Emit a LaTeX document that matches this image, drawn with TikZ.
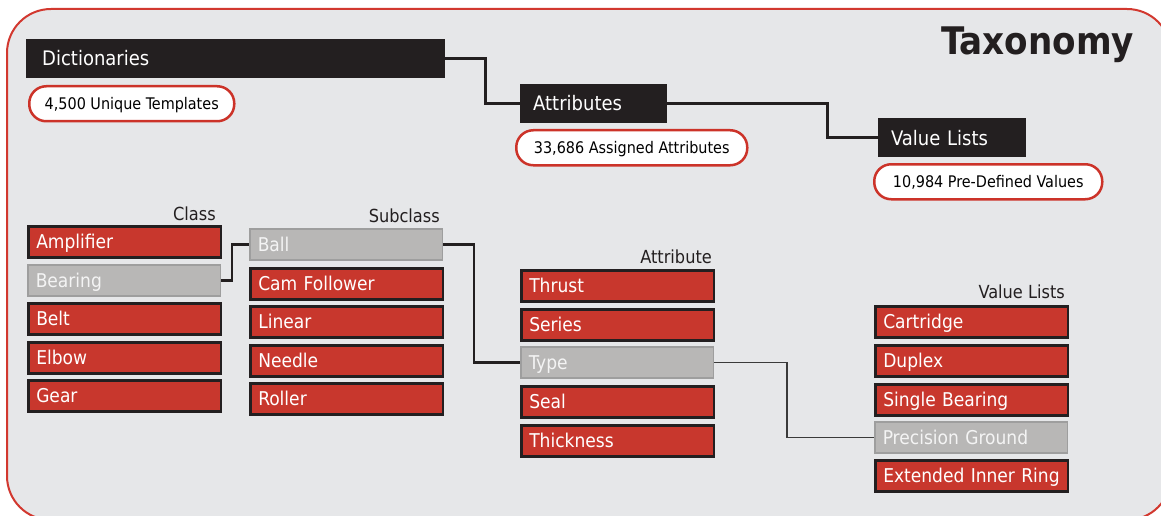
\documentclass[tikz,border=0pt]{standalone}
\usepackage{fontspec}
\setmainfont{DejaVu Sans Condensed}
\definecolor{bgc}{HTML}{E6E7E9}
\definecolor{framered}{HTML}{D2382F}
\definecolor{hdrc}{HTML}{231F20}
\definecolor{pillred}{HTML}{CC3329}
\definecolor{cellred}{HTML}{C8372D}
\definecolor{cellborder}{HTML}{231F20}
\definecolor{cellgrey}{HTML}{B8B7B6}
\definecolor{greyborder}{HTML}{9E9E9E}
\definecolor{greytext}{HTML}{F4F4F4}
\definecolor{thinline}{HTML}{3A3A3A}
\tikzset{
  hdr/.style={anchor=north west, fill=hdrc, text=white, align=left,
    font=\fontsize{20}{24}\selectfont, minimum height=39pt,
    text height=14.6pt, text depth=0pt},
  pill/.style={anchor=north west, draw=pillred, line width=2.5pt, fill=white,
    rounded corners=17pt, minimum height=35pt, text=black,
    font=\fontsize{16}{19}\selectfont, text height=11.7pt, text depth=0pt},
  cell/.style={anchor=north west, text width=176.5pt, inner xsep=8pt, align=left,
    minimum height=31pt, text height=14pt, text depth=0pt,
    font=\fontsize{19}{22}\selectfont},
  redcell/.style={cell, fill=cellred, draw=cellborder, line width=2.5pt, text=white},
  greycell/.style={cell, fill=cellgrey, draw=greyborder, line width=1.5pt, text=greytext},
  collabel/.style={anchor=base east, inner sep=0pt, text=hdrc,
    font=\fontsize{18}{21}\selectfont},
  conn/.style={draw=hdrc, line width=2.5pt},
  thinconn/.style={draw=thinline, line width=1.5pt},
}
\begin{document}
\begin{tikzpicture}[x=1pt,y=-1pt]
\useasboundingbox (0,0) rectangle (1161,516);
\begin{scope}
\clip (0,0) rectangle (1161,516);
\draw[fill=bgc, draw=framered, line width=2pt, rounded corners=44pt] (7,9) rectangle (1171,520);
\end{scope}

% title
\node[anchor=base west, inner sep=0pt, text=hdrc, font=\fontsize{38}{45}\selectfont\bfseries] (title) at (941,55) {Taxonomy};

% headers
\node[hdr, inner xsep=16pt, text width=387pt] (dict) at (26,39) {Dictionaries};
\node[pill, minimum width=205pt] (p1) at (28,85) {4,500 Unique Templates};
\node[hdr, inner xsep=13pt, text width=121pt] (attr) at (520,84) {Attributes};
\node[pill, minimum width=231pt] (p2) at (515,129) {33,686 Assigned Attributes};
\node[hdr, inner xsep=13pt, text width=122pt] (vl) at (878,118) {Value Lists};
\node[pill, minimum width=228pt] (p3) at (873,163) {10,984 Pre-Defined Values};

\draw[conn] (dict.east) -- ++(40,0) |- (attr.west);
\draw[conn] (attr.east) -- ++(160,0) |- (vl.west);

% column labels
\node[collabel] (lclass) at (216,220) {Class};
\node[collabel] (lsub) at (440,222) {Subclass};
\node[collabel] (lattr) at (712,263) {Attribute};
\node[collabel] (lval) at (1065,298) {Value Lists};

% class column
\node[redcell] (amp) at (27,225) {Amplifier};
\node[greycell] (bear) at (27,264) {Bearing};
\node[redcell] (belt) at (27,302) {Belt};
\node[redcell] (elbow) at (27,341) {Elbow};
\node[redcell] (gear) at (27,379) {Gear};

% subclass column
\node[greycell] (ball) at (249,228) {Ball};
\node[redcell] (cam) at (249,267) {Cam Follower};
\node[redcell] (lin) at (249,305) {Linear};
\node[redcell] (needle) at (249,344) {Needle};
\node[redcell] (roller) at (249,382) {Roller};

% attribute column
\node[redcell] (thrust) at (520,269) {Thrust};
\node[redcell] (series) at (520,308) {Series};
\node[greycell] (type) at (520,346) {Type};
\node[redcell] (seal) at (520,385) {Seal};
\node[redcell] (thick) at (520,424) {Thickness};

% value column
\node[redcell] (cart) at (874,305) {Cartridge};
\node[redcell] (duplex) at (874,344) {Duplex};
\node[redcell] (single) at (874,383) {Single Bearing};
\node[greycell] (prec) at (874,421) {Precision Ground};
\node[redcell] (ext) at (874,459) {Extended Inner Ring};

% connectors
\draw[conn] (bear.east) -- ++(11,0) |- (ball.west);
\draw[conn] (ball.east) -- ++(31,0) |- (type.west);
\draw[thinconn] (type.east) -- ++(73,0) |- (prec.west);
\end{tikzpicture}
\end{document}
